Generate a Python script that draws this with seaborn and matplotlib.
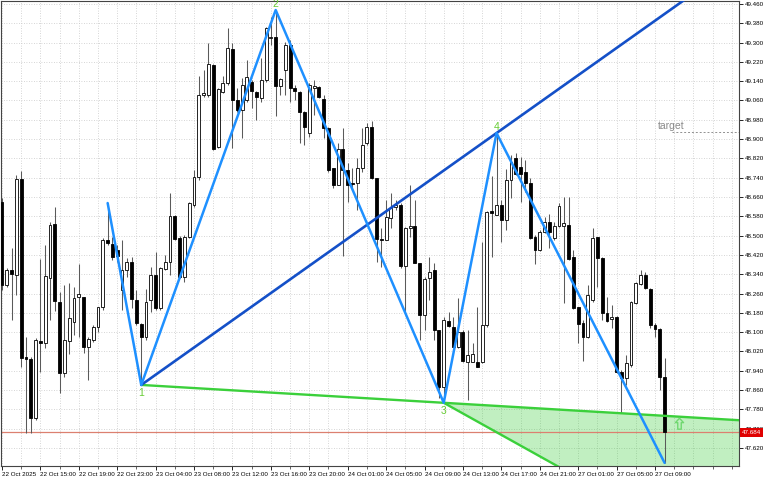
import numpy as np
import pandas as pd
import seaborn as sns
import matplotlib.pyplot as plt
from matplotlib.path import Path

# 30 min candles (bar 0 = 22 Oct 2025 11:00)
opens = [48.641, 48.296, 48.358, 48.337, 48.735, 47.997, 47.989, 47.744, 48.063, 48.055,
         48.325, 48.548, 48.225, 47.931, 48.063, 48.142, 48.246, 48.246, 48.039, 48.068,
         48.122, 48.204, 48.482, 48.465, 48.441, 48.275, 48.358, 48.391, 48.233, 48.134,
         48.080, 48.233, 48.337, 48.200, 48.362, 48.391, 48.581, 48.490, 48.329, 48.494,
         48.627, 48.743, 49.083, 49.083, 49.207, 48.867, 49.095, 49.133, 49.274, 49.062,
         49.021, 49.062, 49.137, 49.095, 49.071, 49.145, 49.319, 49.323, 49.120, 49.187,
         49.290, 49.112, 49.095, 49.012, 48.925, 49.112, 49.116, 49.066, 48.946, 48.780,
         48.710, 48.859, 48.772, 48.718, 48.718, 48.780, 48.884, 48.950, 48.739, 48.486,
         48.482, 48.573, 48.619, 48.627, 48.374, 48.532, 48.540, 48.387, 48.171, 48.325,
         48.358, 48.109, 47.873, 48.146, 48.122, 48.039, 48.101, 47.977, 47.977, 47.977,
         47.977, 48.130, 48.602, 48.586, 48.627, 48.565, 48.731, 48.822, 48.785, 48.764,
         48.718, 48.494, 48.441, 48.515, 48.557, 48.490, 48.540, 48.540, 48.544, 48.412,
         48.204, 48.138, 48.080, 48.233, 48.494, 48.407, 48.180, 48.155, 48.163, 47.935,
         47.910, 47.964, 48.221, 48.300, 48.337, 48.279, 48.130, 48.113, 47.914]
highs = [48.656, 48.366, 48.449, 48.751, 48.769, 48.080, 47.997, 48.076, 48.403, 48.461,
         48.557, 48.619, 48.267, 48.296, 48.304, 48.287, 48.383, 48.246, 48.080, 48.130,
         48.204, 48.490, 48.635, 48.494, 48.461, 48.482, 48.407, 48.412, 48.275, 48.138,
         48.279, 48.370, 48.432, 48.370, 48.420, 48.677, 48.586, 48.499, 48.503, 48.640,
         48.772, 49.162, 49.187, 49.298, 49.211, 49.112, 49.162, 49.361, 49.298, 49.112,
         49.153, 49.228, 49.145, 49.100, 49.236, 49.365, 49.406, 49.435, 49.153, 49.303,
         49.311, 49.124, 49.100, 49.017, 49.133, 49.145, 49.120, 49.083, 48.950, 48.780,
         48.884, 48.946, 48.801, 48.780, 48.822, 48.946, 48.967, 48.975, 48.739, 48.532,
         48.648, 48.677, 48.648, 48.635, 48.536, 48.710, 48.648, 48.387, 48.329, 48.412,
         48.387, 48.109, 48.163, 48.184, 48.163, 48.242, 48.109, 48.109, 48.055, 48.204,
         48.474, 48.602, 48.747, 48.925, 48.648, 48.776, 48.834, 48.843, 48.826, 48.814,
         48.739, 48.503, 48.523, 48.577, 48.590, 48.557, 48.635, 48.660, 48.660, 48.441,
         48.204, 48.151, 48.296, 48.532, 48.494, 48.412, 48.246, 48.213, 48.167, 47.943,
         48.006, 48.229, 48.308, 48.358, 48.349, 48.283, 48.138, 48.117, 47.993]
lows = [48.275, 48.287, 48.151, 48.254, 47.957, 47.682, 47.682, 47.736, 47.935, 48.035,
        48.151, 48.188, 47.848, 47.914, 48.010, 48.088, 48.080, 48.014, 47.902, 48.059,
        48.101, 48.192, 48.461, 48.399, 48.391, 48.192, 48.329, 48.200, 48.130, 47.881,
        48.068, 48.184, 48.192, 48.192, 48.358, 48.337, 48.482, 48.325, 48.308, 48.490,
        48.619, 48.731, 49.075, 49.075, 48.855, 48.863, 49.091, 49.124, 48.863, 49.012,
        48.905, 49.054, 49.029, 48.979, 49.054, 49.137, 49.290, 48.996, 49.083, 49.083,
        49.054, 49.062, 48.884, 48.876, 48.909, 49.000, 49.071, 48.905, 48.764, 48.698,
        48.710, 48.416, 48.640, 48.689, 48.606, 48.764, 48.876, 48.735, 48.391, 48.370,
        48.482, 48.532, 48.606, 48.366, 48.184, 48.494, 48.387, 48.068, 48.109, 48.233,
        48.068, 47.827, 47.807, 48.122, 48.039, 48.035, 47.977, 47.819, 47.977, 47.956,
        47.972, 48.122, 48.412, 48.586, 48.474, 48.523, 48.656, 48.751, 48.640, 48.681,
        48.486, 48.383, 48.436, 48.511, 48.449, 48.482, 48.536, 48.221, 48.399, 48.196,
        48.055, 47.981, 48.076, 48.225, 48.287, 48.151, 48.142, 48.117, 47.931, 47.765,
        47.881, 47.956, 48.217, 48.296, 48.279, 48.117, 48.080, 47.860, 47.558]
closes = [48.296, 48.358, 48.341, 48.735, 47.993, 47.989, 47.744, 48.068, 48.055, 48.333,
          48.544, 48.229, 47.931, 48.068, 48.159, 48.242, 48.258, 48.039, 48.072, 48.122,
          48.204, 48.482, 48.470, 48.412, 48.416, 48.358, 48.391, 48.238, 48.138, 48.080,
          48.225, 48.337, 48.200, 48.366, 48.391, 48.581, 48.486, 48.329, 48.494, 48.635,
          48.743, 49.083, 49.091, 49.211, 48.859, 49.108, 49.133, 49.278, 49.062, 49.021,
          49.124, 49.158, 49.100, 49.075, 49.145, 49.361, 49.323, 49.120, 49.149, 49.290,
          49.112, 49.100, 49.012, 48.950, 49.124, 49.120, 49.075, 48.946, 48.772, 48.710,
          48.859, 48.772, 48.710, 48.714, 48.780, 48.876, 48.950, 48.739, 48.486, 48.482,
          48.577, 48.615, 48.627, 48.374, 48.532, 48.540, 48.387, 48.171, 48.320, 48.349,
          48.109, 47.873, 48.151, 48.126, 48.039, 48.101, 47.981, 48.006, 48.010, 47.956,
          48.130, 48.598, 48.594, 48.627, 48.565, 48.731, 48.805, 48.756, 48.756, 48.718,
          48.490, 48.441, 48.515, 48.557, 48.515, 48.540, 48.623, 48.552, 48.403, 48.200,
          48.134, 48.080, 48.254, 48.490, 48.407, 48.180, 48.146, 48.163, 47.935, 47.910,
          47.972, 48.225, 48.304, 48.337, 48.283, 48.130, 48.113, 47.914, 47.684]

time_labels = ["22 Oct 2025", "22 Oct 15:00", "22 Oct 19:00", "22 Oct 23:00", "23 Oct 04:00",
               "23 Oct 08:00", "23 Oct 12:00", "23 Oct 16:00", "23 Oct 20:00", "24 Oct 01:00",
               "24 Oct 05:00", "24 Oct 09:00", "24 Oct 13:00", "24 Oct 17:00", "24 Oct 21:00",
               "27 Oct 01:00", "27 Oct 05:00", "27 Oct 09:00"]

# zigzag pivots: bar index and whether it is a high
zz_bars = [22, 29, 57, 92, 103, 138]
zz_is_high = [True, False, True, False, True, False]
pivot_names = ["", "1", "2", "3", "4", ""]

bid_price = 47.684
target_price = 48.928
signal_bar, signal_price = 141, 47.718

df = pd.DataFrame({"open": opens, "high": highs, "low": lows, "close": closes})
df["bar"] = np.arange(len(df))
up = df["close"] >= df["open"]

zz_y = [df.high[b] if h else df.low[b] for b, h in zip(zz_bars, zz_is_high)]

sns.set_style("white")
plt.rcParams["font.family"] = ["Liberation Sans", "DejaVu Sans"]

fig = plt.figure(figsize=(7.68, 4.8), dpi=100)
ax = fig.add_axes([1 / 768, 14 / 480, 738 / 768, 465.5 / 480])

x_right = 153.5
ax.set_xlim(-0.21, x_right)
ax.set_ylim(47.545, 49.4745)

# harmonic zone between pivot 1-3 line and a 2-4 parallel from pivot 3
p1, p2, p3, p4 = [(zz_bars[i], zz_y[i]) for i in (1, 2, 3, 4)]
s13 = (p3[1] - p1[1]) / (p3[0] - p1[0])
s24 = (p4[1] - p2[1]) / (p4[0] - p2[0])
s14 = (p4[1] - p1[1]) / (p4[0] - p1[0])
xs = np.linspace(p3[0], x_right + 5, 60)
upper = p1[1] + s13 * (xs - p1[0])
lower = p3[1] + s24 * (xs - p3[0])
ax.fill_between(xs, lower, upper, color="#32cd32", alpha=0.3, lw=0, zorder=1)

ax.axhline(bid_price, color="#dc8070", lw=0.9, zorder=1.5)

# candles
ax.vlines(df.bar, df.low, df.high, color="#5a5a5a", lw=0.75, zorder=2)
ax.bar(df.bar[up], (df.close - df.open)[up], bottom=df.open[up], width=0.6,
       facecolor="white", edgecolor="black", lw=0.6, zorder=3)
ax.bar(df.bar[~up], (df.close - df.open)[~up], bottom=df.open[~up], width=0.6,
       color="black", edgecolor="black", lw=0.6, zorder=3)

# trend lines
ext = np.array([p1[0], x_right + 30])
sns.lineplot(x=ext, y=p1[1] + s13 * (ext - p1[0]), color="#3bd03b", lw=1.7, ax=ax, zorder=4)
ext3 = np.array([p3[0], x_right + 30])
sns.lineplot(x=ext3, y=p3[1] + s24 * (ext3 - p3[0]), color="#3bd03b", lw=1.7, ax=ax, zorder=4)
sns.lineplot(x=ext, y=p1[1] + s14 * (ext - p1[0]), color="#1450c8", lw=1.9, ax=ax, zorder=4)
sns.lineplot(x=zz_bars, y=zz_y, sort=False, color="#1e90ff", lw=1.8, ax=ax, zorder=5)

for b, yv, name, h in zip(zz_bars, zz_y, pivot_names, zz_is_high):
    if name:
        ax.annotate(name, (b, yv), xytext=(0, 4.2 if h else -6), textcoords="offset points",
                    ha="center", va="center", fontsize=7.5, color="#66cc33", zorder=6)

# hollow up arrow signal
arrow = Path([(0, 1), (0.65, 0.3), (0.28, 0.3), (0.28, -0.75), (-0.28, -0.75),
              (-0.28, 0.3), (-0.65, 0.3), (0, 1)],
             [Path.MOVETO] + [Path.LINETO] * 6 + [Path.CLOSEPOLY])
ax.plot([signal_bar], [signal_price], marker=arrow, ms=9, mfc="none", mec="#70d870",
        mew=1.0, ls="none", zorder=6)

ax.text(136.7, target_price + 0.015, "target", fontsize=7.5, color="#8a8a8a",
        ha="left", va="baseline", zorder=6)
ax.hlines(target_price, 139.6, x_right, color="#909090", lw=0.7, ls=(0, (2, 2)), zorder=6)

# axes styling
yt = np.round(np.arange(47.62, 49.47, 0.08), 3)
ax.yaxis.tick_right()
ax.set_yticks(yt)
ax.set_yticklabels([f"{v:.3f}" for v in yt])
ax.set_xticks(range(0, len(time_labels) * 8, 8))
ax.set_xticklabels(time_labels, ha="left")
ax.set_xticks(range(0, 154, 4), minor=True)
ax.tick_params(axis="both", which="major", direction="out", length=3, width=0.6,
               pad=1, labelsize=4.5, colors="black", bottom=True, right=True)
ax.tick_params(axis="x", which="minor", direction="out", length=2, width=0.5, bottom=True)
ax.grid(True, which="both", axis="x", color="#c8c8c8", lw=0.6, ls=(0, (1, 2)))
ax.grid(True, which="major", axis="y", color="#c8c8c8", lw=0.6, ls=(0, (1, 2)))
ax.set_axisbelow(True)
for sp in ax.spines.values():
    sp.set_color("#444444")
    sp.set_linewidth(0.8)
ax.set_xlabel("")
ax.set_ylabel("")

ax.text(1.004, bid_price, f"{bid_price:.3f}", transform=ax.get_yaxis_transform(),
        fontsize=4.5, color="white", ha="left", va="center", clip_on=False, zorder=10,
        bbox=dict(boxstyle="square,pad=0.25", fc="#e00000", ec="none"))

fig.savefig("out.png", dpi=100)
